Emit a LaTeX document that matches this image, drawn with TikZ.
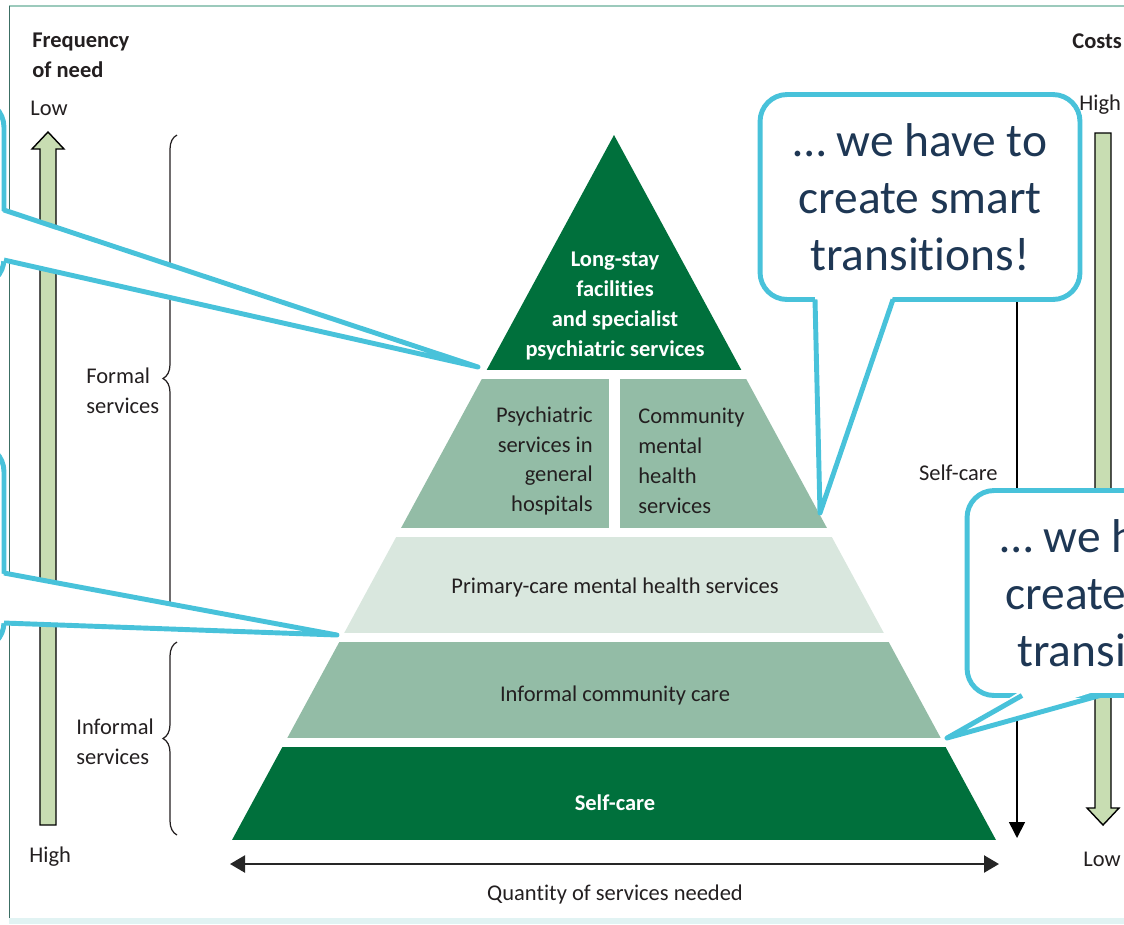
\documentclass[tikz,border=0pt]{standalone}
\usepackage{fontspec}
\setmainfont{Carlito}[Ligatures=NoCommon]
\usetikzlibrary{arrows.meta,decorations.pathreplacing}

\definecolor{pyrdark}{RGB}{0,112,60}
\definecolor{pyrmid}{RGB}{147,188,166}
\definecolor{pyrlight}{RGB}{217,231,222}
\definecolor{arrowgreen}{RGB}{200,221,178}
\definecolor{callblue}{RGB}{72,194,218}
\definecolor{callnavy}{RGB}{30,55,84}
\definecolor{figtext}{RGB}{35,31,32}
\definecolor{frameline}{RGB}{156,202,188}
\definecolor{frameside}{RGB}{60,110,100}
\definecolor{frameband}{RGB}{225,243,243}

\begin{document}
\begin{tikzpicture}[x=0.02cm,y=-0.02cm,
    figlabel/.style={text=figtext,inner sep=0pt,font=\fontsize{12.8}{17}\selectfont},
    figbold/.style={figlabel,font=\fontsize{12.8}{17}\selectfont\bfseries},
    layerwhite/.style={figbold,text=white,align=center},
    callout/.style={draw=callblue,line width=2.8pt,fill=white,rounded corners=0.54cm,
      minimum width=6.4cm,minimum height=4.1cm,inner sep=0pt,outer sep=0pt,
      text=callnavy,align=center,font=\fontsize{27}{32.3}\selectfont},
    pointer/.style={draw=callblue,line width=2.8pt,line join=round},
    hollow/.style={draw=black,line width=0.8pt,fill=arrowgreen},
    bracket/.style={draw=figtext,line width=0.7pt,decorate,decoration={brace,amplitude=0.28cm}}]

    \useasboundingbox (0,0) rectangle (1124,924);
    \clip (0,0) rectangle (1124,924);

    \draw[frameline,line width=1.2pt] (9,6) -- (1124,6);
    \draw[frameside,line width=0.5pt] (9,6) -- (9,924);
    \draw[frameband,line width=3pt] (9,921) -- (1124,921);

    % pyramid
    \begin{scope}
      \clip (614,135) -- (996,840) -- (232,840) -- cycle;
      \foreach \ytop/\ybot/\col in {135/370/pyrdark,537/633/pyrlight,642/738/pyrmid,747/840/pyrdark}
        \fill[\col] (200,\ytop) rectangle (1030,\ybot);
      \fill[pyrmid] (200,379) rectangle (609,528);
      \fill[pyrmid] (620,379) rectangle (1030,528);
    \end{scope}

    \node[layerwhite]                      (longstay)     at (615,306) {Long-stay\\facilities\\and specialist\\psychiatric services};
    \node[figlabel,align=right,anchor=east] (generalhosp) at (593,461) {Psychiatric\\services in\\general\\hospitals};
    \node[figlabel,align=left,anchor=west]  (community)   at (638,461) {Community\\mental\\health\\services};
    \node[figlabel,anchor=base]            (primary)      at (615,593) {Primary-care mental health services};
    \node[figlabel,anchor=base]            (informalcare) at (615,701) {Informal community care};
    \node[figbold,text=white,anchor=base]  (selfcare)     at (615,810) {Self-care};

    % axes
    \draw[hollow] (40,825) -- (40,149) -- (32,149) -- (48,132) -- (64,149) -- (56,149) -- (56,825) -- cycle;
    \draw[hollow] (1095,133) -- (1095,808) -- (1087,808) -- (1103,825) -- (1119,808) -- (1111,808) -- (1111,133) -- cycle;

    \coordinate (sctop)  at (1017,133);
    \coordinate (scbot)  at (1017,838);
    \coordinate (qleft)  at (230,864);
    \coordinate (qright) at (999,864);
    \draw[line width=0.9pt,-{Triangle[length=0.32cm,width=0.32cm]}] (sctop) -- (scbot);
    \draw[line width=1.3pt,draw=black!85,{Triangle[length=0.3cm,width=0.34cm]}-{Triangle[length=0.3cm,width=0.34cm]}] (qleft) -- (qright);

    \draw[bracket] (177,622) -- (177,135);
    \draw[bracket] (177,835) -- (177,642);

    \node[figbold,align=left,anchor=west]  (freq)        at (32,55)   {Frequency\\of need};
    \node[figbold,anchor=base west]        (costs)       at (1072,48) {Costs};
    \node[figlabel,anchor=base west]       (lowleft)     at (30,115)  {Low};
    \node[figlabel,anchor=base west]       (highleft)    at (29,862)  {High};
    \node[figlabel,anchor=base west]       (highright)   at (1079,110) {High};
    \node[figlabel,anchor=base west]       (lowright)    at (1083,866) {Low};
    \node[figlabel,anchor=base east]       (selfcarelab) at (998,480) {Self-care};
    \node[figlabel,align=left,anchor=west] (formal)      at (86,391)  {Formal\\services};
    \node[figlabel,align=left,anchor=west] (informal)    at (76,742)  {Informal\\services};
    \node[figlabel,anchor=base]            (quantity)    at (615,900) {Quantity of services needed};

    % callouts
    \node[callout,minimum height=3.72cm] (callA) at (-156,193) {};
    \coordinate (tipA) at (478,367);
    \fill[white] (-2,210) -- (tipA) -- (-2,260) -- cycle;
    \draw[pointer] (callA.east |- 0,210) -- (tipA) -- (callA.east |- 0,260);

    \node[callout] (callB) at (-156,547) {};
    \coordinate (tipB) at (337,635);
    \fill[white] (-2,573) -- (tipB) -- (-2,623) -- cycle;
    \draw[pointer] (callB.east |- 0,573) -- (tipB) -- (callB.east |- 0,623);

    \node[callout] (callC) at (920,197) {… we have to\\create smart\\transitions!};
    \coordinate (tipC) at (820,513);
    \fill[white] (815,296) -- (tipC) -- (893,296) -- cycle;
    \draw[pointer] (callC.south -| 815,0) -- (tipC) -- (callC.south -| 893,0);

    \node[callout] (callD) at (1127,593) {… we have to\\create smart\\transitions!};
    \coordinate (tipD) at (947,738);
    \fill[white] (1022,690) -- (tipD) -- (1100,690) -- cycle;
    \draw[pointer] (callD.south -| 1022,0) -- (tipD) -- (callD.south -| 1100,0);
\end{tikzpicture}
\end{document}
